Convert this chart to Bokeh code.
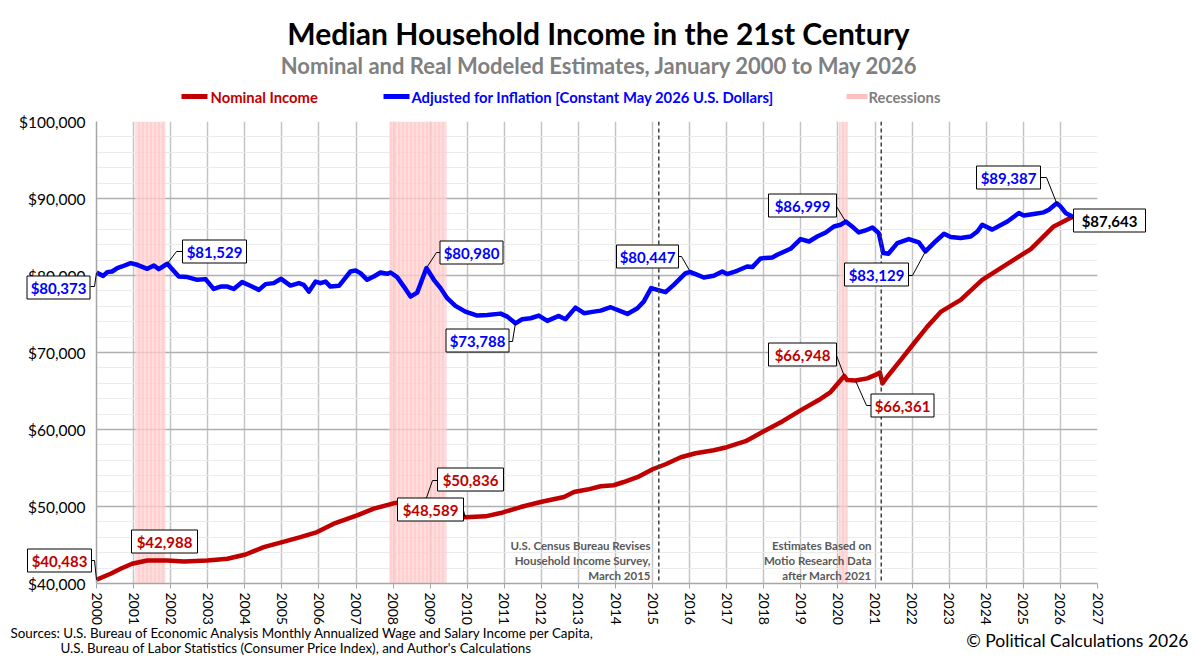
from bokeh.plotting import figure
from bokeh.models import Span, BoxAnnotation, FixedTicker, NumeralTickFormatter, Range1d, ColumnDataSource
from bokeh.core.properties import value
from bokeh.embed import file_html
from bokeh.resources import INLINE

# ---------------- data ----------------
real_years = [2000.00, 2000.18, 2000.29, 2000.42, 2000.56, 2000.69, 2000.92, 2001.10, 2001.37, 2001.55,
              2001.68, 2001.91, 2002.22, 2002.45, 2002.72, 2002.94, 2003.16, 2003.35, 2003.53, 2003.70,
              2003.93, 2004.15, 2004.38, 2004.56, 2004.78, 2004.98, 2005.23, 2005.46, 2005.59, 2005.73,
              2005.91, 2006.04, 2006.18, 2006.31, 2006.54, 2006.67, 2006.85, 2006.99, 2007.12, 2007.30,
              2007.48, 2007.66, 2007.84, 2007.93, 2008.11, 2008.29, 2008.47, 2008.65, 2008.90, 2009.10,
              2009.28, 2009.46, 2009.68, 2009.95, 2010.27, 2010.54, 2010.90, 2011.08, 2011.30, 2011.48,
              2011.71, 2011.93, 2012.16, 2012.47, 2012.65, 2012.92, 2013.15, 2013.42, 2013.60, 2013.87,
              2014.32, 2014.59, 2014.76, 2014.96, 2015.13, 2015.35, 2015.57, 2015.89, 2016.02, 2016.16,
              2016.38, 2016.65, 2016.88, 2017.01, 2017.28, 2017.55, 2017.69, 2017.91, 2018.23, 2018.36,
              2018.72, 2018.99, 2019.22, 2019.44, 2019.67, 2019.89, 2020.07, 2020.21, 2020.43, 2020.56,
              2020.74, 2020.93, 2021.10, 2021.22, 2021.36, 2021.60, 2021.91, 2022.18, 2022.36, 2022.63,
              2022.86, 2023.04, 2023.31, 2023.58, 2023.76, 2023.89, 2024.16, 2024.57, 2024.88, 2025.01,
              2025.28, 2025.55, 2025.69, 2025.90, 2026.00, 2026.14, 2026.33]
real_values = [80373, 79950, 80440, 80520, 80960, 81170, 81600, 81390, 80870, 81300,
               80830, 81529, 79870, 79790, 79440, 79530, 78260, 78560, 78560, 78260,
               79140, 78660, 78130, 78880, 79010, 79570, 78690, 79010, 78790, 77910,
               79210, 79010, 79210, 78560, 78660, 79440, 80520, 80650, 80310, 79440,
               79870, 80390, 80220, 80390, 79790, 78560, 77260, 77780, 80980, 79440,
               78360, 77050, 76050, 75310, 74790, 74880, 75050, 74660, 73788, 74320,
               74450, 74790, 74100, 74750, 74320, 75830, 75100, 75310, 75440, 75880,
               75010, 75750, 76610, 78360, 78130, 77840, 78790, 80310, 80447, 80180,
               79740, 79960, 80520, 80180, 80610, 81170, 81090, 82210, 82340, 82690,
               83470, 84730, 84420, 85070, 85590, 86370, 86590, 86999, 86160, 85590,
               85850, 86240, 85510, 82910, 82820, 84210, 84730, 84290, 83129, 84420,
               85420, 84990, 84860, 85070, 85720, 86590, 85960, 87020, 88120, 87800,
               87990, 88200, 88550, 89387, 88980, 88120, 87643]

nominal_years = [2000.00, 2000.38, 2000.65, 2000.96, 2001.37, 2001.91, 2002.36, 2002.99, 2003.53, 2004.02,
                 2004.51, 2005.01, 2005.50, 2005.95, 2006.40, 2007.03, 2007.48, 2008.01, 2008.50, 2008.88,
                 2009.17, 2009.50, 2009.95, 2010.49, 2010.90, 2011.44, 2011.98, 2012.61, 2012.88, 2013.24,
                 2013.60, 2013.95, 2014.22, 2014.59, 2015.00, 2015.35, 2015.76, 2016.16, 2016.65, 2017.00,
                 2017.51, 2018.00, 2018.51, 2019.00, 2019.48, 2019.80, 2020.17, 2020.25, 2020.47, 2020.79,
                 2021.06, 2021.13, 2021.20, 2021.33, 2021.69, 2022.05, 2022.41, 2022.77, 2023.31, 2023.89,
                 2024.74, 2025.20, 2025.82, 2026.33]
nominal_values = [40483, 41260, 41910, 42560, 42988, 42990, 42860, 42990, 43220, 43770,
                  44720, 45380, 46030, 46680, 47770, 48850, 49720, 50410, 50700, 50836,
                  50280, 49500, 48589, 48720, 49150, 49930, 50580, 51230, 51880, 52200,
                  52630, 52760, 53180, 53800, 54840, 55490, 56400, 56920, 57310, 57700,
                  58480, 59780, 61080, 62520, 63820, 64860, 66948, 66420, 66361, 66640,
                  67200, 67400, 65990, 66850, 69020, 71200, 73360, 75270, 76830, 79440,
                  82040, 83430, 86370, 87643]

recession_starts = [2001.05, 2007.90, 2020.03]
recession_ends = [2001.86, 2009.44, 2020.26]
revision_dates = [2015 + 2 / 12, 2021 + 2 / 12]

x_ticks = list(range(2000, 2028))
y_major = list(range(40000, 100001, 10000))
y_minor = list(range(40000, 100001, 2000))

title_text = "Median Household Income in the 21st Century"
subtitle_text = "Nominal and Real Modeled Estimates, January 2000 to May 2026"
legend_labels = ["Nominal Income", "Adjusted for Inflation [Constant May 2026 U.S. Dollars]", "Recessions"]
note_census = ["U.S. Census Bureau Revises", "Household Income Survey,", "March 2015"]
note_motio = ["Estimates Based on", "Motio Research Data", "after March 2021"]
sources = ["Sources: U.S. Bureau of Economic Analysis Monthly Annualized Wage and Salary Income per Capita,",
           "U.S. Bureau of Labor Statistics (Consumer Price Index), and Author's Calculations"]
copyright_text = "\u00a9 Political Calculations 2026"

# ---------------- layout helpers (pixel -> data) ----------------
W, H = 1198, 661
FL, FR, FT, FB = 96, 1097, 121, 583
X0, X1, Y0, Y1 = 2000, 2027, 40000, 100000


def X(px):
    return X0 + (px - FL) * (X1 - X0) / (FR - FL)


def Y(py):
    return Y0 + (FB - py) * (Y1 - Y0) / (FB - FT)


FONT = "Lato"
RED = "#C00000"
BLUE = "#0000FF"
GRAY_TXT = "#7F7F7F"

p = figure(width=W, height=H, x_range=Range1d(X0, X1), y_range=Range1d(Y0, Y1),
           output_backend="svg", toolbar_location=None,
           min_border_left=FL, min_border_right=W - FR, min_border_top=FT, min_border_bottom=H - FB)
p.outline_line_color = None
p.background_fill_color = "white"
p.border_fill_color = "white"

# grid
p.xgrid.ticker = FixedTicker(ticks=x_ticks)
p.xgrid.grid_line_color = "#C4C4C4"
p.xgrid.grid_line_width = 1.5
p.ygrid.ticker = FixedTicker(ticks=y_major, minor_ticks=y_minor)
p.ygrid.grid_line_color = "#B0B0B0"
p.ygrid.grid_line_width = 1.5
p.ygrid.minor_grid_line_color = "#EBEBEB"
p.ygrid.minor_grid_line_width = 1.2

# axes
p.yaxis.ticker = FixedTicker(ticks=y_major)
p.yaxis.formatter = NumeralTickFormatter(format="$0,0")
p.yaxis.major_tick_line_color = None
p.yaxis.major_tick_out = 0
p.yaxis.major_tick_in = 0
p.yaxis.minor_tick_line_color = None
p.yaxis.axis_line_color = "#A6A6A6"
p.yaxis.axis_line_width = 1.5
p.yaxis.major_label_text_font = FONT
p.yaxis.major_label_text_font_size = "15.5px"
p.yaxis.major_label_text_color = "black"
p.yaxis.major_label_standoff = 11

p.xaxis.ticker = FixedTicker(ticks=x_ticks)
p.xaxis.major_label_orientation = "vertical"
p.xaxis.major_tick_in = 0
p.xaxis.major_tick_out = 5
p.xaxis.major_tick_line_color = "#A6A6A6"
p.xaxis.minor_tick_line_color = None
p.xaxis.axis_line_color = "#A6A6A6"
p.xaxis.axis_line_width = 1.5
p.xaxis.major_label_text_font = FONT
p.xaxis.major_label_text_font_size = "14px"
p.xaxis.major_label_text_color = "black"
p.xaxis.major_label_standoff = 4

# recession bands
for s, e in zip(recession_starts, recession_ends):
    p.add_layout(BoxAnnotation(left=s, right=e, fill_color="#FFD2D2", fill_alpha=0.75,
                               hatch_pattern="vertical_line", hatch_color="#FFA8A8", hatch_alpha=0.5,
                               hatch_scale=4, hatch_weight=1, line_color=None, level="underlay"))

# revision lines
for d in revision_dates:
    p.add_layout(Span(location=d, dimension="height", line_color="#404040", line_width=1.5,
                      line_dash="4 3"))

# series
p.line(nominal_years, nominal_values, line_color=RED, line_width=4.5, line_join="round")
p.line(real_years, real_values, line_color=BLUE, line_width=4.5, line_join="round")


def txt(px, py, texts, size, color="black", style="normal", align="left", baseline="middle"):
    if not isinstance(px, list):
        px, py, texts = [px], [py], [texts]
    p.text(x=[X(v) for v in px], y=[Y(v) for v in py], text=texts, text_font=value(FONT),
           text_font_size=value(size), text_color=color, text_font_style=style,
           text_align=align, text_baseline=baseline, level="overlay")


# title / subtitle
txt(598, 32, title_text, "30px", "black", "bold", align="center")
txt(599, 65, subtitle_text, "22px", "#808080", "bold", align="center")

# legend
legend_swatch_px = [181, 383, 846]
legend_swatch_w = [26, 26, 21]
legend_text_px = [210, 411, 868]
legend_swatch_colors = [RED, BLUE, "#FFC0C0"]
legend_text_colors = [RED, BLUE, GRAY_TXT]
p.rect(x=[X(v + w / 2) for v, w in zip(legend_swatch_px, legend_swatch_w)], y=[Y(96)] * 3,
       width=legend_swatch_w, height=5, width_units="screen", height_units="screen",
       fill_color=legend_swatch_colors, line_color=None, level="overlay")
for tx, name, tc in zip(legend_text_px, legend_labels, legend_text_colors):
    txt(tx, 96, name, "14.8px", tc, "bold")

# notes
txt([650] * 3, [545, 560, 575], note_census, "11.5px", "#595959", "bold", align="right")
txt([871] * 3, [545, 560, 575], note_motio, "11.5px", "#595959", "bold", align="right")

# sources / copyright
txt([10, 60], [632, 647], sources, "13.4px", "black")
txt(1188, 640, copyright_text, "17.5px", "black", align="right")

# callouts: (years, values, year, text colour, box centre px, box width px, leader elbow px list)
callouts = [
    (real_years, real_values, 2000.00, BLUE, (58, 287), 63, [(94, 286), (90, 286)]),
    (real_years, real_values, 2001.91, BLUE, (214, 251), 64, [(176, 251), (182, 251)]),
    (real_years, real_values, 2008.90, BLUE, (471, 252), 63, [(436, 252), (440, 252)]),
    (real_years, real_values, 2011.30, BLUE, (477, 340), 63, [(512, 341), (508, 341)]),
    (real_years, real_values, 2016.02, BLUE, (647, 256), 62, [(681, 256), (678, 256)]),
    (real_years, real_values, 2020.21, BLUE, (802, 205), 68, [(836, 206)]),
    (real_years, real_values, 2022.36, BLUE, (876, 274), 64, [(912, 275), (908, 275)]),
    (real_years, real_values, 2025.90, BLUE, (1008, 177), 64, [(1046, 177), (1040, 177)]),
    (real_years, real_values, 2026.33, "black", (1109, 220), 72, [(1073, 220)]),
    (nominal_years, nominal_values, 2000.00, RED, (59, 560), 64, [(94, 560), (91, 560)]),
    (nominal_years, nominal_values, 2001.37, RED, (164, 541), 66, []),
    (nominal_years, nominal_values, 2008.88, RED, (470, 479), 66, [(432, 480), (437, 480)]),
    (nominal_years, nominal_values, 2009.95, RED, (430, 509), 66, [(463, 510)]),
    (nominal_years, nominal_values, 2020.17, RED, (802, 354), 68, [(836, 355)]),
    (nominal_years, nominal_values, 2020.47, RED, (902, 405), 63, [(866, 405), (871, 405)]),
]
lx, ly = [], []
bx_, by_, bw_, bt_, bc_ = [], [], [], [], []
for yrs, vals, yr, col, (bx, by), bw, elbow in callouts:
    i = min(range(len(yrs)), key=lambda k: abs(yrs[k] - yr))
    v = vals[i]
    if elbow:
        lx.append([yrs[i]] + [X(e[0]) for e in elbow])
        ly.append([v] + [Y(e[1]) for e in elbow])
    bx_.append(X(bx))
    by_.append(Y(by))
    bw_.append(bw)
    bt_.append(f"${v:,.0f}")
    bc_.append(col)
p.multi_line(lx, ly, line_color="black", line_width=1, level="overlay")
box_src = ColumnDataSource(dict(x=bx_, y=by_, w=bw_, text=bt_, color=bc_))
p.rect(x="x", y="y", width="w", height=23, width_units="screen", height_units="screen",
       fill_color="white", line_color="black", line_width=1, source=box_src, level="overlay")
p.text(x="x", y="y", text="text", text_color="color", text_font=value(FONT),
       text_font_size=value("15px"), text_font_style="bold", text_align="center",
       text_baseline="middle", source=box_src, level="overlay")

open("out.html", "w").write(file_html(p, INLINE))
